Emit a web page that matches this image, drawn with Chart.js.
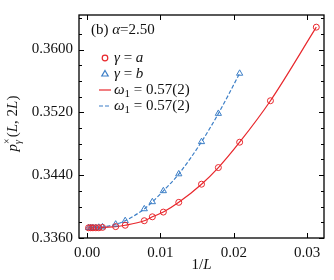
<!DOCTYPE html>
<html>
<head>
<meta charset="utf-8">
<script src="https://cdn.jsdelivr.net/npm/chart.js@4.4.0/dist/chart.umd.min.js"></script>
<style>
  html, body { margin: 0; padding: 0; background: #fff; }
</style>
</head>
<body>
<canvas id="chart" width="334" height="280"></canvas>
<script>
// 1/L y p_gamma^x(L,2L)
const invL_a = [0.0002, 0.0005, 0.0008, 0.0012, 0.0016, 0.0021, 0.0039, 0.0052, 0.0078, 0.0089, 0.0104, 0.0125, 0.0156, 0.0179, 0.0208, 0.0250, 0.03125];
const p_a    = [0.3373, 0.3373, 0.3373, 0.3373, 0.3373, 0.33735, 0.33745, 0.33762, 0.3382, 0.3387, 0.3393, 0.34054, 0.34285, 0.34497, 0.3482, 0.35348, 0.36285];
const invL_b = [0.0002, 0.0005, 0.0008, 0.0012, 0.0016, 0.0021, 0.0039, 0.0052, 0.0078, 0.0089, 0.0104, 0.0125, 0.0156, 0.0179, 0.0208];
const p_b    = [0.3373, 0.3373, 0.3373, 0.3373, 0.33735, 0.3374, 0.33775, 0.3382, 0.3397, 0.3406, 0.3420, 0.34415, 0.34825, 0.35185, 0.35696];

const xTicks = [0, 0.01, 0.02, 0.03];
const yTicks = [0.336, 0.344, 0.352, 0.360];
const legendLabels = ['γ = a', 'γ = b', 'ω₁ = 0.57(2)', 'ω₁ = 0.57(2)'];
const panelLabel = '(b) α=2.50';
const xTitle = '1/L';

const RED = '#e8272c';
const BLUE = '#3d7fc7';
const SERIF = '"Liberation Serif", "DejaVu Serif", serif';

const pts = (xs, ys) => xs.map((v, i) => ({ x: v, y: ys[i] }));

// texto con letras en cursiva (estilo LaTeX)
function drawMath(ctx, str, x, y, size, upright = '', dry = false) {
    ctx.textBaseline = 'middle';
    ctx.textAlign = 'left';
    for (const ch of str) {
        if (ch === '₁') {
            ctx.font = `${Math.round(size * 0.7)}px ${SERIF}`;
            if (!dry) ctx.fillText('1', x, y + size * 0.28);
            x += ctx.measureText('1').width;
            continue;
        }
        const it = /[a-zα-ω]/i.test(ch) && !upright.includes(ch);
        ctx.font = `${it ? 'italic ' : ''}${size}px ${SERIF}`;
        if (!dry) ctx.fillText(ch, x, y);
        x += ctx.measureText(ch).width;
    }
    return x;
}

const framePlugin = {
    id: 'framePlugin',
    afterDraw(chart) {
        const { ctx, chartArea: a, scales: { x, y } } = chart;
        ctx.save();
        ctx.strokeStyle = '#000';
        ctx.lineWidth = 1.3;
        ctx.strokeRect(a.left, a.top, a.right - a.left, a.bottom - a.top);

        // ticks hacia dentro
        ctx.lineWidth = 1;
        ctx.beginPath();
        xTicks.forEach(v => {
            const px = Math.round(x.getPixelForValue(v)) + 0.5;
            ctx.moveTo(px, a.bottom); ctx.lineTo(px, a.bottom - 5);
            ctx.moveTo(px, a.top); ctx.lineTo(px, a.top + 5);
        });
        const step = (yTicks[1] - yTicks[0]) / 4;
        for (let i = 0; ; i++) {
            const v = yTicks[0] + i * step;
            if (v > y.max) break;
            const py = Math.round(y.getPixelForValue(v)) + 0.5;
            const len = i % 4 === 0 ? 5 : 3;
            ctx.moveTo(a.left, py); ctx.lineTo(a.left + len, py);
            ctx.moveTo(a.right, py); ctx.lineTo(a.right - len, py);
        }
        ctx.stroke();

        // título del eje x: 1/L
        ctx.fillStyle = '#111';
        const xw = drawMath(ctx, xTitle, 0, 0, 15, '', true);
        drawMath(ctx, xTitle, (a.left + a.right) / 2 - xw / 2, 265, 15);

        // título del eje y: p_γ^×(L, 2L)
        ctx.translate(13, (a.top + a.bottom) / 2 - 3);
        ctx.rotate(-Math.PI / 2);
        ctx.font = `italic 15px ${SERIF}`;
        let w = ctx.measureText('p').width;
        ctx.font = `italic 10px ${SERIF}`;
        const wSub = ctx.measureText('γ').width;
        ctx.font = `10px ${SERIF}`;
        const wSup = ctx.measureText('×').width;
        w += Math.max(wSub, wSup) + 1 + drawMath(ctx, '(L, 2L)', 0, 0, 15, '', true);
        let tx = -w / 2;
        ctx.textBaseline = 'middle';
        ctx.font = `italic 15px ${SERIF}`;
        ctx.fillText('p', tx, 0);
        tx += ctx.measureText('p').width;
        ctx.font = `italic 10px ${SERIF}`;
        ctx.fillText('γ', tx, 5);
        ctx.font = `10px ${SERIF}`;
        ctx.fillText('×', tx, -6);
        tx += Math.max(wSub, wSup) + 1;
        drawMath(ctx, '(L, 2L)', tx, 0, 15);
        ctx.restore();

        // leyenda dentro del área
        ctx.save();
        ctx.fillStyle = '#111';
        drawMath(ctx, panelLabel, a.left + 12, a.top + 15, 15, 'b');
        chart.data.datasets.forEach((ds, i) => {
            const cy = a.top + 43 + 16 * i;
            const cx = a.left + 26;
            ctx.strokeStyle = ds.borderColor;
            ctx.lineWidth = 1.2;
            if (ds.showLine === false) {
                ctx.beginPath();
                if (ds.pointStyle === 'triangle') {
                    ctx.moveTo(cx, cy - 3.5);
                    ctx.lineTo(cx + 3.2, cy + 2);
                    ctx.lineTo(cx - 3.2, cy + 2);
                    ctx.closePath();
                } else {
                    ctx.arc(cx, cy, 2.8, 0, Math.PI * 2);
                }
                ctx.stroke();
            } else {
                ctx.setLineDash(ds.borderDash || []);
                ctx.beginPath();
                ctx.moveTo(cx - 6, cy);
                ctx.lineTo(cx + 6, cy);
                ctx.stroke();
                ctx.setLineDash([]);
            }
            ctx.fillStyle = '#111';
            drawMath(ctx, ds.label, a.left + 35, cy, 15);
        });
        ctx.restore();
    }
};

const ctx = document.getElementById('chart').getContext('2d');
window.chart = new Chart(ctx, {
    type: 'line',
    data: {
        datasets: [
            {
                label: legendLabels[0],
                data: pts(invL_a, p_a),
                showLine: false,
                borderColor: RED,
                backgroundColor: 'transparent',
                pointStyle: 'circle',
                pointRadius: 3,
                pointBorderWidth: 1,
                order: 1
            },
            {
                label: legendLabels[1],
                data: pts(invL_b, p_b),
                showLine: false,
                borderColor: BLUE,
                backgroundColor: 'transparent',
                pointStyle: 'triangle',
                pointRadius: 3.6,
                pointBorderWidth: 1,
                order: 2
            },
            {
                label: legendLabels[2],
                data: pts(invL_a, p_a),
                borderColor: RED,
                borderWidth: 1.2,
                pointRadius: 0,
                cubicInterpolationMode: 'monotone',
                fill: false,
                order: 3
            },
            {
                label: legendLabels[3],
                data: pts(invL_b, p_b),
                borderColor: BLUE,
                borderWidth: 1.2,
                borderDash: [4, 2],
                pointRadius: 0,
                cubicInterpolationMode: 'monotone',
                fill: false,
                order: 4
            }
        ]
    },
    options: {
        responsive: false,
        animation: false,
        layout: { padding: { top: 5, right: 10, left: 0, bottom: 0 } },
        plugins: {
            legend: { display: false },
            tooltip: { enabled: false }
        },
        scales: {
            x: {
                type: 'linear',
                min: -0.0011,
                max: 0.0323,
                afterBuildTicks: s => { s.ticks = xTicks.map(v => ({ value: v })); },
                afterFit: s => { s.height = 42; },
                grid: { display: false, drawTicks: false },
                border: { display: false },
                ticks: {
                    callback: v => v.toFixed(2),
                    font: { family: SERIF, size: 15 },
                    color: '#111',
                    padding: 6,
                    maxRotation: 0,
                    autoSkip: false
                }
            },
            y: {
                type: 'linear',
                min: 0.336,
                max: 0.3644,
                afterBuildTicks: s => { s.ticks = yTicks.map(v => ({ value: v })); },
                afterFit: s => { s.width = 79; },
                grid: { display: false, drawTicks: false },
                border: { display: false },
                ticks: {
                    callback: v => v.toFixed(4),
                    font: { family: SERIF, size: 15 },
                    color: '#111',
                    padding: 6
                }
            }
        }
    },
    plugins: [framePlugin]
});
</script>
</body>
</html>
